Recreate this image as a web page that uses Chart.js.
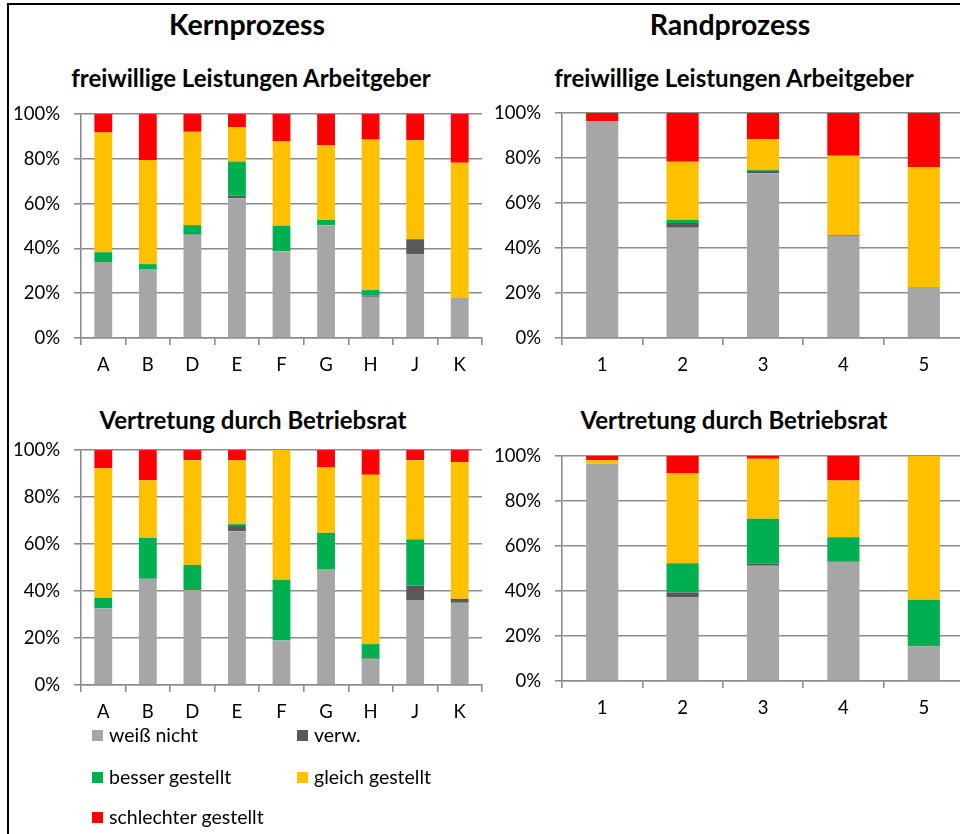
<!DOCTYPE html>
<html>
<head>
<meta charset="utf-8">
<script src="https://cdn.jsdelivr.net/npm/chart.js@4.4.1/dist/chart.umd.min.js"></script>
<style>
  html, body { margin:0; padding:0; background:#fff; }
  body { width:960px; height:834px; overflow:hidden; position:relative; font-family: Lato, "Open Sans", sans-serif; color:#000; }
  .ttl { position:absolute; transform:translate(-50%,-50%); white-space:nowrap; font-weight:bold; line-height:1; }
  .main { font-size:28.5px; }
  .sub { font-size:24px; }
  canvas { position:absolute; }
  .border { position:absolute; background:#000; }
  .leg { position:absolute; font-size:19.5px; line-height:1; white-space:nowrap; display:flex; align-items:center; }
  .leg i { display:inline-block; width:11px; height:11px; margin-right:6px; }
</style>
</head>
<body>
<div class="border" style="left:7px;top:3px;width:953px;height:2px;"></div>
<div class="border" style="left:7px;top:3px;width:2px;height:831px;"></div>

<div class="ttl main" style="left:247px;top:24px;">Kernprozess</div>
<div class="ttl main" style="left:730px;top:24px;">Randprozess</div>
<div class="ttl sub" style="left:251px;top:78px;">freiwillige Leistungen Arbeitgeber</div>
<div class="ttl sub" style="left:734px;top:78px;">freiwillige Leistungen Arbeitgeber</div>
<div class="ttl sub" style="left:253px;top:420px;">Vertretung durch Betriebsrat</div>
<div class="ttl sub" style="left:734px;top:420px;">Vertretung durch Betriebsrat</div>

<canvas id="c1"></canvas>
<canvas id="c2"></canvas>
<canvas id="c3"></canvas>
<canvas id="c4"></canvas>
<div id="legend"></div>

<script>
// ---------- data ----------
const seriesNames = ['weiß nicht', 'verw.', 'besser gestellt', 'gleich gestellt', 'schlechter gestellt'];
const seriesColors = ['#A6A6A6', '#595959', '#00B050', '#FFC000', '#FF0000'];
const kernCategories = ['A', 'B', 'D', 'E', 'F', 'G', 'H', 'J', 'K'];
const randCategories = ['1', '2', '3', '4', '5'];
const yTickValues = [0, 20, 40, 60, 80, 100];

// Kernprozess – freiwillige Leistungen Arbeitgeber (segment shares in %)
const kernLeistWeissNicht = [33.9, 30.8, 46.1, 62.4, 38.8, 50.4, 18.4, 37.4, 18.0];
const kernLeistVerw       = [0, 0, 0, 1.3, 0, 0, 0.5, 6.7, 0];
const kernLeistBesser     = [4.4, 2.2, 4.3, 15.1, 11.4, 2.3, 2.5, 0, 0];
const kernLeistGleich     = [53.5, 46.5, 41.7, 15.3, 37.6, 33.3, 67.2, 44.2, 60.3];
const kernLeistSchlechter = [8.2, 20.5, 7.9, 5.9, 12.2, 14.0, 11.4, 11.7, 21.7];

// Randprozess – freiwillige Leistungen Arbeitgeber
const randLeistWeissNicht = [96.4, 49.0, 73.2, 45.5, 22.7];
const randLeistVerw       = [0, 2.1, 1.2, 0.3, 0];
const randLeistBesser     = [0, 1.5, 0.4, 0, 0];
const randLeistGleich     = [0, 25.8, 13.6, 35.2, 53.3];
const randLeistSchlechter = [3.6, 21.6, 11.6, 19.0, 24.0];

// Kernprozess – Vertretung durch Betriebsrat
const kernBRWeissNicht = [32.6, 45.2, 40.4, 65.5, 18.9, 49.1, 10.9, 36.2, 35.0];
const kernBRVerw       = [0, 0, 0, 2.2, 0, 0, 0.4, 6.2, 1.7];
const kernBRBesser     = [4.6, 17.4, 10.7, 0.8, 25.9, 15.7, 6.1, 19.6, 0];
const kernBRGleich     = [55.1, 24.6, 44.6, 27.1, 55.2, 27.8, 72.1, 33.7, 58.2];
const kernBRSchlechter = [7.7, 12.8, 4.3, 4.4, 0, 7.4, 10.5, 4.3, 5.1];

// Randprozess – Vertretung durch Betriebsrat
const randBRWeissNicht = [96.6, 37.1, 51.2, 52.7, 15.4];
const randBRVerw       = [0, 2.2, 0.9, 0.4, 0];
const randBRBesser     = [0, 13.1, 20.0, 10.8, 20.7];
const randBRGleich     = [1.5, 39.9, 26.7, 25.3, 63.9];
const randBRSchlechter = [1.9, 7.7, 1.2, 10.8, 0];

// ---------- drawing ----------
const FONT = 'Lato, "Open Sans", sans-serif';
const GRID = '#8C8C8C';
const Y_AXIS_W = 70, PAD_TOP = 20, PAD_RIGHT = 10, X_AXIS_H = 50;

function buildConfig(categories, seriesData) {
  return {
    type: 'bar',
    data: {
      labels: categories,
      datasets: seriesNames.map((name, i) => ({
        label: name,
        data: seriesData[i],
        backgroundColor: seriesColors[i],
        borderWidth: 0,
        barPercentage: 0.4,
        categoryPercentage: 1
      }))
    },
    options: {
      responsive: false,
      maintainAspectRatio: false,
      animation: false,
      devicePixelRatio: 1,
      layout: { padding: { top: PAD_TOP, right: PAD_RIGHT, left: 0, bottom: 0 } },
      plugins: { legend: { display: false }, title: { display: false }, tooltip: { enabled: false } },
      scales: {
        x: {
          stacked: true,
          grid: { display: true, drawOnChartArea: false, drawTicks: true, tickLength: 7, color: GRID, lineWidth: 1.6, offset: true },
          border: { display: true, color: GRID, width: 1.6 },
          ticks: { color: '#000', font: { family: FONT, size: 18.5 }, padding: 9, maxRotation: 0, autoSkip: false },
          afterFit(s) { s.height = X_AXIS_H; }
        },
        y: {
          stacked: true,
          min: 0, max: 100,
          afterBuildTicks(s) { s.ticks = yTickValues.map(v => ({ value: v })); },
          ticks: { color: '#000', font: { family: FONT, size: 18.5 }, padding: 14, callback: v => v + '%' },
          grid: { color: GRID, lineWidth: 1.6, tickLength: 7, drawTicks: true },
          border: { display: true, color: GRID, width: 1.6 },
          afterFit(s) { s.width = Y_AXIS_W; }
        }
      }
    }
  };
}

function makeChart(id, plot, categories, seriesData) {
  const cv = document.getElementById(id);
  let w = Math.round(plot.R - plot.L + Y_AXIS_W + PAD_RIGHT);
  let h = Math.round(plot.B - plot.T + PAD_TOP + X_AXIS_H);
  cv.width = w; cv.height = h;
  let chart = new Chart(cv, buildConfig(categories, seriesData));
  const ca = chart.chartArea;
  const dh = Math.round((plot.B - plot.T) - (ca.bottom - ca.top));
  const dw = Math.round((plot.R - plot.L) - (ca.right - ca.left));
  if (dh !== 0 || dw !== 0) {
    chart.destroy();
    w += dw; h += dh;
    cv.width = w; cv.height = h;
    cv.style.width = w + 'px'; cv.style.height = h + 'px';
    chart = new Chart(cv, buildConfig(categories, seriesData));
  }
  const ca2 = chart.chartArea;
  cv.style.left = (plot.L - ca2.left) + 'px';
  cv.style.top = (plot.T - ca2.top) + 'px';
  return chart;
}

makeChart('c1', { L: 81, R: 481.7, T: 113.7, B: 338 }, kernCategories,
  [kernLeistWeissNicht, kernLeistVerw, kernLeistBesser, kernLeistGleich, kernLeistSchlechter]);
makeChart('c2', { L: 562, R: 963.5, T: 113.3, B: 338.3 }, randCategories,
  [randLeistWeissNicht, randLeistVerw, randLeistBesser, randLeistGleich, randLeistSchlechter]);
makeChart('c3', { L: 81, R: 481.7, T: 450.3, B: 685.3 }, kernCategories,
  [kernBRWeissNicht, kernBRVerw, kernBRBesser, kernBRGleich, kernBRSchlechter]);
makeChart('c4', { L: 562, R: 963.5, T: 456, B: 680.7 }, randCategories,
  [randBRWeissNicht, randBRVerw, randBRBesser, randBRGleich, randBRSchlechter]);

// legend (2 columns, 3 rows)
const legendPos = [[92, 735], [297, 735], [92, 777], [297, 777], [92, 817]];
const legendEl = document.getElementById('legend');
seriesNames.forEach((name, i) => {
  const d = document.createElement('div');
  d.className = 'leg';
  d.style.left = legendPos[i][0] + 'px';
  d.style.top = (legendPos[i][1] - 11) + 'px';
  d.style.height = '22px';
  d.innerHTML = '<i style="background:' + seriesColors[i] + '"></i><span></span>';
  d.querySelector('span').textContent = name;
  legendEl.appendChild(d);
});
</script>
</body>
</html>
